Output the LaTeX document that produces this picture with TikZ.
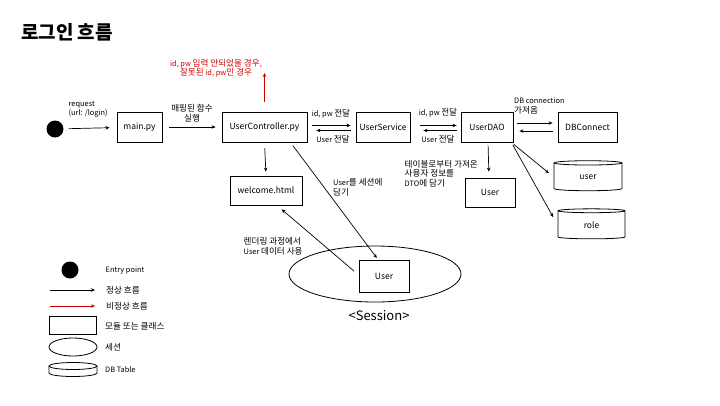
\documentclass[tikz,border=0pt]{standalone}
\usepackage{fontspec}
\setmainfont{Noto Sans CJK KR}
\usetikzlibrary{shapes.geometric,arrows.meta}
\newcommand\hg[1]{{\fontsize{8.6}{9.5}\selectfont #1}}
\begin{document}
\begin{tikzpicture}[x=1pt,y=-1pt,
  box/.style={draw,line width=0.8pt,minimum width=#1,minimum height=30pt,inner sep=0pt,font=\fontsize{8.5}{10}\selectfont},
  box/.default=50pt,
  arr/.style={line width=0.7pt,-{Stealth[length=4pt,width=3.5pt]}},
  redarr/.style={arr,draw=red!80!black},
  lbl/.style={font=\fontsize{7.4}{9.5}\selectfont,inner sep=0pt,align=left},
  lblc/.style={font=\fontsize{7.4}{9.5}\selectfont,inner sep=0pt,align=center},
  dbcyl/.style={draw,line width=0.8pt,cylinder,shape border rotate=90,aspect=0.25,minimum width=#1,minimum height=30pt,inner sep=0pt,font=\fontsize{8.5}{10}\selectfont},
  legline/.style={line width=0.8pt},
]
\useasboundingbox (0,0) rectangle (720,405);
\fill[white] (0,0) rectangle (720,405);
\node[anchor=west,font=\fontsize{19}{22}\selectfont\bfseries,inner sep=0pt] (title) at (21,32) {로그인 흐름};

% main row
\node[circle,fill=black,minimum size=17pt,inner sep=0pt] (entry) at (55,129) {};
\node[box=45pt] (main) at (139.5,127) {main.py};
\node[box=85pt] (uc) at (264.5,127) {UserController.py};
\node[box=54pt] (us) at (383,127) {UserService};
\node[box=52pt] (dao) at (487,127) {UserDAO};
\node[box=59pt] (dbc) at (587.5,127) {DBConnect};
\node[box=72pt,minimum height=29pt] (welcome) at (266,190.5) {welcome.html};
\node[box=50pt,minimum height=29pt] (udto) at (490,192.5) {User};
\node[dbcyl=68pt] (cuser) at (588,177) {user};
\node[dbcyl=67pt] (crole) at (591.5,225) {role};
\node[draw,ellipse,line width=0.8pt,minimum width=172pt,minimum height=56pt,inner sep=0pt] (session) at (375,274) {};
\node[box=50pt,minimum height=32pt] (suser) at (384,276) {User};
\node[font=\fontsize{13}{15}\selectfont,inner sep=0pt] (sessionlbl) at (379,316) {<Session>};
\coordinate (errend) at (264.5,73);

% connectors
\draw[arr,shorten <=5pt,shorten >=7pt] (entry) -- (main);
\draw[arr,shorten <=7pt,shorten >=6pt] (main) -- (uc);
\draw[redarr,shorten <=10pt] (uc.north) -- (errend);
\draw[arr,shorten <=5pt,shorten >=5pt] ([yshift=1.5pt]uc.east) -- ([yshift=1.5pt]us.west);
\draw[arr,shorten <=5pt,shorten >=9pt] ([yshift=-3.5pt]us.west) -- ([yshift=-3.5pt]uc.east);
\draw[arr,shorten <=10pt,shorten >=4pt] ([yshift=1.5pt]us.east) -- ([yshift=1.5pt]dao.west);
\draw[arr,shorten <=4pt,shorten >=13pt] ([yshift=-3.5pt]dao.west) -- ([yshift=-3.5pt]us.east);
\draw[arr,shorten <=4pt,shorten >=5pt] ([yshift=4pt]dao.east) -- ([yshift=4pt]dbc.west);
\draw[arr,shorten <=5pt,shorten >=6pt] ([yshift=-4pt]dbc.west) -- ([yshift=-4pt]dao.east);
\draw[arr,shorten <=6pt,shorten >=4pt] (uc.south) -- (welcome.north);
\draw[arr,shorten <=3pt,shorten >=6pt] ([xshift=1pt]dao.south) -- ([xshift=-1pt]udto.north);
\draw[arr,shorten <=3pt,shorten >=6pt] ([xshift=-2pt]dao.south east) -- (cuser.west);
\draw[arr,shorten <=3pt,shorten >=9pt] ([xshift=-2pt]dao.south east) -- (crole.west);
\draw[arr,shorten <=4pt,shorten >=2pt] ([xshift=26pt]uc.south) -- ([xshift=-6pt]suser.north);
\draw[arr,shorten <=6pt,shorten >=6pt] ([yshift=1pt]suser.west) -- ([xshift=11pt]welcome.south);

% labels
\node[lbl,anchor=north west] (l1) at (68.5,101) {request\\(url: /login)};
\node[lblc] (l2) at (192,113) {\hg{매핑된 함수}\\\hg{실행}};
\node[lblc,text=red!85!black] (l3) at (216,68.5) {id, pw \hg{입력 안되었을 경우},\\\hg{잘못된} id, pw\hg{인 경우}};
\node[lblc] (l4) at (331,114) {id, pw \hg{전달}};
\node[lblc] (l5) at (333,139) {User \hg{전달}};
\node[lblc] (l6) at (438,113) {id, pw \hg{전달}};
\node[lblc] (l7) at (438,139) {User \hg{전달}};
\node[lbl,anchor=north west] (l8) at (514,98) {DB connection\\\hg{가져옴}};
\node[lbl,anchor=north west] (l9) at (404.5,160) {\hg{테이블로부터 가져온}\\\hg{사용자 정보를}\\DTO\hg{에 담기}};
\node[lbl,anchor=north west] (l10) at (333,178.5) {User\hg{를 세션에}\\\hg{담기}};
\node[lbl,anchor=north west] (l11) at (243.5,237.5) {\hg{렌더링 과정에서}\\User \hg{데이터 사용}};

% legend
\node[circle,fill=black,minimum size=17pt,inner sep=0pt] (lgc) at (70,270) {};
\node[lbl,anchor=west] (lgct) at (105.5,270) {Entry point};
\coordinate (lga1) at (50,290); \coordinate (lga2) at (95,290);
\draw[arr] (lga1) -- (lga2);
\node[lbl,anchor=west] (lgat) at (106,290) {\hg{정상 흐름}};
\coordinate (lgr1) at (50,306); \coordinate (lgr2) at (95,306);
\draw[redarr] (lgr1) -- (lgr2);
\node[lbl,anchor=west] (lgrt) at (106,306.5) {\hg{비정상 흐름}};
\node[draw,line width=0.8pt,minimum width=47pt,minimum height=18pt,inner sep=0pt] (lgb) at (73,325.5) {};
\node[lbl,anchor=west] (lgbt) at (105,326) {\hg{모듈 또는 클래스}};
\node[draw,ellipse,line width=0.8pt,minimum width=48pt,minimum height=18pt,inner sep=0pt] (lge) at (73,347) {};
\node[lbl,anchor=west] (lget) at (105,347) {\hg{세션}};
\coordinate (lgd) at (73,369.5);
\draw[legline] ([shift={(0,-3.5)}]lgd) ellipse[x radius=24, y radius=3.5];
\draw[legline] ([shift={(-24,-3.5)}]lgd) -- ([shift={(-24,3.5)}]lgd)
  arc[start angle=180, end angle=0, x radius=24, y radius=3.5] -- ([shift={(24,-3.5)}]lgd);
\node[lbl,anchor=west] (lgdt) at (105,369.5) {DB Table};
\end{tikzpicture}
\end{document}
